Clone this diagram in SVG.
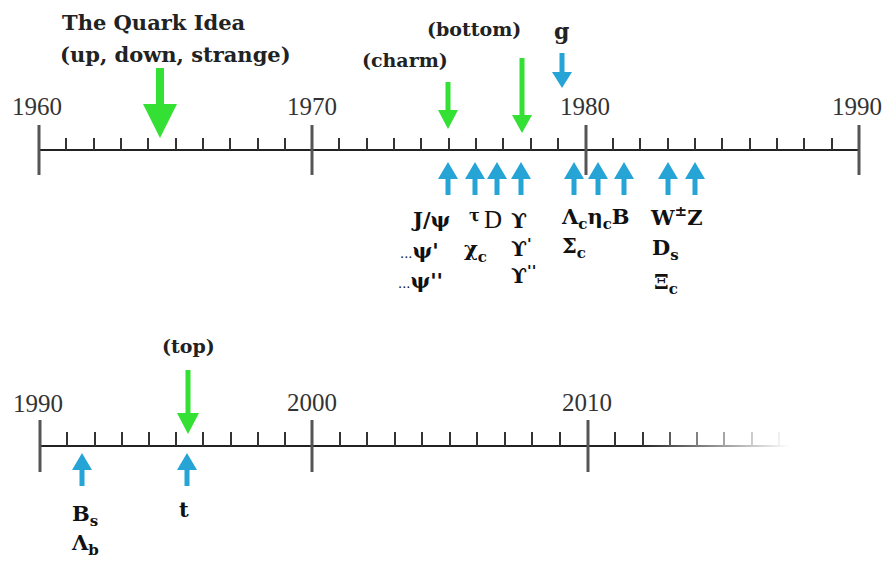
<svg xmlns="http://www.w3.org/2000/svg" width="886" height="561" viewBox="0 0 886 561">
<style>
.yr{font-family:"Liberation Serif",serif;font-size:25px;fill:#333}
.lb{font-family:"DejaVu Serif","Liberation Serif",serif;font-weight:bold;fill:#222}
.ax{stroke:#222;stroke-width:2;fill:none}
.maj{stroke:#555;stroke-width:3}
.min{stroke:#333;stroke-width:2}
.g{fill:#33e033}
.b{fill:#27a4d6}
.p{font-family:"DejaVu Serif","Liberation Serif",serif;font-weight:bold;font-size:21px;fill:#111}
.s{font-size:15px}
</style>
<defs>
<linearGradient id="fade" gradientUnits="userSpaceOnUse" x1="640" y1="0" x2="790" y2="0">
<stop offset="0" stop-color="#fff"/>
<stop offset="1" stop-color="#000"/>
</linearGradient>
<mask id="fm" maskUnits="userSpaceOnUse" x="0" y="400" width="886" height="90">
<rect x="0" y="400" width="886" height="90" fill="url(#fade)"/>
</mask>
<path id="up" d="M0,0 L10,17 L2.5,17 L2.5,33 L-2.5,33 L-2.5,17 L-10,17 Z"/>
</defs>
<rect width="886" height="561" fill="#fff"/>

<g id="timeline-1960-1990">
<line class="ax" x1="39" y1="150" x2="859" y2="150"/>
<g class="maj">
<line x1="39" y1="125" x2="39" y2="175"/>
<line x1="312" y1="125" x2="312" y2="175"/>
<line x1="586" y1="125" x2="586" y2="175"/>
<line x1="859" y1="125" x2="859" y2="175"/>
</g>
<g class="min">
<line x1="66" y1="138" x2="66" y2="150"/><line x1="94" y1="138" x2="94" y2="150"/><line x1="121" y1="138" x2="121" y2="150"/><line x1="148" y1="138" x2="148" y2="150"/><line x1="176" y1="138" x2="176" y2="150"/><line x1="203" y1="138" x2="203" y2="150"/><line x1="230" y1="138" x2="230" y2="150"/><line x1="258" y1="138" x2="258" y2="150"/><line x1="285" y1="138" x2="285" y2="150"/>
<line x1="339" y1="138" x2="339" y2="150"/><line x1="367" y1="138" x2="367" y2="150"/><line x1="394" y1="138" x2="394" y2="150"/><line x1="421" y1="138" x2="421" y2="150"/><line x1="449" y1="138" x2="449" y2="150"/><line x1="476" y1="138" x2="476" y2="150"/><line x1="503" y1="138" x2="503" y2="150"/><line x1="531" y1="138" x2="531" y2="150"/><line x1="558" y1="138" x2="558" y2="150"/>
<line x1="613" y1="138" x2="613" y2="150"/><line x1="640" y1="138" x2="640" y2="150"/><line x1="668" y1="138" x2="668" y2="150"/><line x1="695" y1="138" x2="695" y2="150"/><line x1="722" y1="138" x2="722" y2="150"/><line x1="750" y1="138" x2="750" y2="150"/><line x1="777" y1="138" x2="777" y2="150"/><line x1="804" y1="138" x2="804" y2="150"/><line x1="832" y1="138" x2="832" y2="150"/>
</g>
<text class="yr" x="12" y="115">1960</text>
<text class="yr" x="287" y="115">1970</text>
<text class="yr" x="560" y="115">1980</text>
<text class="yr" x="832" y="115">1990</text>
</g>

<g id="timeline-1990-2020" mask="url(#fm)">
<line class="ax" x1="40" y1="446" x2="800" y2="446"/>
<g class="maj">
<line x1="40" y1="420" x2="40" y2="472"/>
<line x1="312" y1="420" x2="312" y2="472"/>
<line x1="588" y1="420" x2="588" y2="472"/>
</g>
<g class="min">
<line x1="67" y1="432" x2="67" y2="446"/><line x1="95" y1="432" x2="95" y2="446"/><line x1="122" y1="432" x2="122" y2="446"/><line x1="149" y1="432" x2="149" y2="446"/><line x1="176" y1="432" x2="176" y2="446"/><line x1="203" y1="432" x2="203" y2="446"/><line x1="231" y1="432" x2="231" y2="446"/><line x1="258" y1="432" x2="258" y2="446"/><line x1="285" y1="432" x2="285" y2="446"/>
<line x1="340" y1="432" x2="340" y2="446"/><line x1="367" y1="432" x2="367" y2="446"/><line x1="395" y1="432" x2="395" y2="446"/><line x1="422" y1="432" x2="422" y2="446"/><line x1="450" y1="432" x2="450" y2="446"/><line x1="477" y1="432" x2="477" y2="446"/><line x1="505" y1="432" x2="505" y2="446"/><line x1="532" y1="432" x2="532" y2="446"/><line x1="560" y1="432" x2="560" y2="446"/>
<line x1="615" y1="432" x2="615" y2="446"/><line x1="643" y1="432" x2="643" y2="446"/><line x1="670" y1="432" x2="670" y2="446"/><line x1="697" y1="432" x2="697" y2="446"/><line x1="724" y1="432" x2="724" y2="446"/><line x1="752" y1="432" x2="752" y2="446"/><line x1="779" y1="432" x2="779" y2="446"/>
</g>
</g>
<g id="years-bottom">
<text class="yr" x="13" y="412">1990</text>
<text class="yr" x="287" y="411">2000</text>
<text class="yr" x="562" y="411">2010</text>
</g>

<g id="connectors">
<path class="g" d="M156,68 L164,68 L164,104 L177,104 L160,138 L143,104 L156,104 Z"/>
<path class="g" d="M445.5,82 L450.5,82 L450.5,110 L458,110 L448,129 L438,110 L445.5,110 Z"/>
<path class="g" d="M519.5,58 L524.5,58 L524.5,115 L532,115 L522,133 L512,115 L519.5,115 Z"/>
<path class="g" d="M185.5,370 L190.5,370 L190.5,413 L199,413 L188,434 L177,413 L185.5,413 Z"/>
<path class="b" d="M559.5,53 L564.5,53 L564.5,72 L572,72 L562,88 L552,72 L559.5,72 Z"/>
<g class="b">
<use href="#up" x="448" y="162"/>
<use href="#up" x="475" y="162"/>
<use href="#up" x="497" y="162"/>
<use href="#up" x="521" y="162"/>
<use href="#up" x="574" y="162"/>
<use href="#up" x="598" y="162"/>
<use href="#up" x="624" y="162"/>
<use href="#up" x="668" y="162"/>
<use href="#up" x="695" y="162"/>
<use href="#up" x="82" y="453"/>
<use href="#up" x="187" y="453"/>
</g>
</g>

<g id="quark-idea">
<text class="lb" x="62" y="30" font-size="21">The Quark Idea</text>
<text class="lb" x="60" y="62" font-size="21">(up, down, strange)</text>
</g>
<g id="charm"><text class="lb" x="362" y="67" font-size="19">(charm)</text></g>
<g id="bottom"><text class="lb" x="427" y="36" font-size="19">(bottom)</text></g>
<g id="gluon"><text class="lb" x="554" y="39" font-size="22">g</text></g>
<g id="top"><text class="lb" x="162" y="353" font-size="19">(top)</text></g>

<g id="particles-1974">
<text class="p" x="413" y="227">J/ψ</text>
<text class="p" x="400" y="258"><tspan font-size="13" font-weight="normal">...</tspan>ψ'</text>
<text class="p" x="398" y="288"><tspan font-size="13" font-weight="normal">...</tspan>ψ''</text>
</g>
<g id="particles-1975">
<text class="p" x="469" y="221" style="font-size:16px">τ</text>
<text class="p" x="464" y="256">χ<tspan class="s" dy="6">c</tspan></text>
</g>
<g id="particles-1976">
<text class="p" x="484" y="228" style="font-weight:normal;font-family:'Liberation Serif',serif;font-size:25px">D</text>
</g>
<g id="particles-1977">
<text class="p" x="511" y="228">ϒ</text>
<text class="p" x="511" y="256">ϒ<tspan class="s" dy="-7">'</tspan></text>
<text class="p" x="511" y="283">ϒ<tspan class="s" dy="-7">''</tspan></text>
</g>
<g id="particles-1979">
<text class="p" x="562" y="224">Λ<tspan class="s" dy="5">c</tspan><tspan dy="-5">η</tspan><tspan class="s" dy="5">c</tspan><tspan dy="-5">B</tspan></text>
<text class="p" x="562" y="253">Σ<tspan class="s" dy="5">c</tspan></text>
</g>
<g id="particles-1983">
<text class="p" x="651" y="225">W<tspan class="s" dy="-9">±</tspan><tspan dy="9">Z</tspan></text>
<text class="p" x="652" y="255">D<tspan class="s" dy="5">s</tspan></text>
<text class="p" x="654" y="289">Ξ<tspan class="s" dy="5">c</tspan></text>
</g>
<g id="particles-1992">
<text class="p" x="72" y="521">B<tspan class="s" dy="5">s</tspan></text>
<text class="p" x="72" y="550">Λ<tspan class="s" dy="5">b</tspan></text>
</g>
<g id="particles-1995">
<text class="p" x="179" y="517">t</text>
</g>
</svg>
